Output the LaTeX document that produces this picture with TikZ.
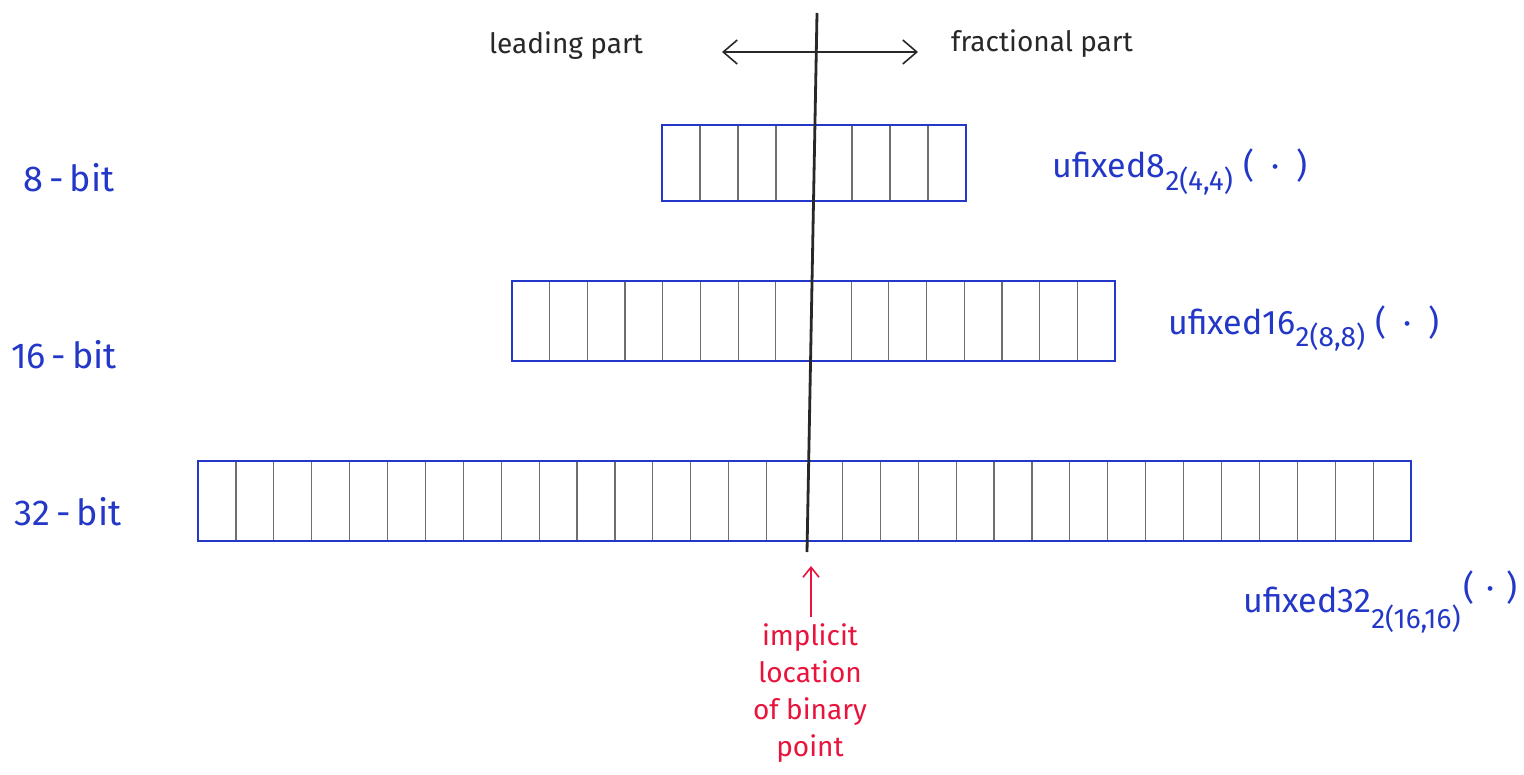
\documentclass[tikz,border=0pt]{standalone}
\usepackage{fontspec}
\setmainfont{Fira Sans}
\usetikzlibrary{arrows.meta,calc}
\definecolor{penblue}{RGB}{35,55,200}
\definecolor{penred}{RGB}{232,20,60}
\definecolor{pencil}{RGB}{110,110,110}
\definecolor{ink}{RGB}{40,40,40}
\newcommand{\lowsub}[1]{\raisebox{-0.7ex}{\fontsize{14}{14}\selectfont #1}}
\newcommand{\argdot}{(\hspace{0.5em}·\hspace{0.5em})}
\tikzset{
  bitbox/.style={draw=penblue, line width=1.3pt},
  divider/.style={draw=pencil, line width=0.6pt},
  axisline/.style={draw=ink, line width=1.4pt},
  dirarrow/.style={draw=ink, line width=0.8pt, {Straight Barb[length=7pt,width=12pt]}-{Straight Barb[length=7pt,width=12pt]}},
  blabel/.style={text=penblue, font=\fontsize{18}{20}\selectfont, inner sep=0pt},
  tlabel/.style={text=penblue, font=\fontsize{17}{20}\selectfont, inner sep=0pt, anchor=base west},
  hlabel/.style={text=ink, font=\fontsize{14}{16}\selectfont, inner sep=0pt},
  redtext/.style={text=penred, font=\fontsize{14}{18.5}\selectfont, align=center, inner sep=0pt},
}
\begin{document}
\begin{tikzpicture}[x=0.5pt,y=-0.5pt]
\useasboundingbox (0,0) rectangle (1524,775);
\fill[white] (0,0) rectangle (1524,775);

% boxes
\coordinate (b8nw) at (662,125); \coordinate (b8se) at (966,201);
\coordinate (b16nw) at (512,281); \coordinate (b16se) at (1115,361);
\coordinate (b32nw) at (198,461); \coordinate (b32se) at (1411,541);

\foreach \b/\n in {b8/8, b16/16, b32/32}{
  \pgfmathtruncatemacro{\half}{\n/2}
  \pgfmathtruncatemacro{\last}{\n-1}
  \foreach \i in {1,...,\last}{
    \ifnum\i=\half\relax\else
      \draw[divider] ($(\b nw)!\i/\n!(\b se |- \b nw)$) -- ($(\b nw |- \b se)!\i/\n!(\b se)$);
    \fi
  }
  \draw[bitbox] (\b nw) rectangle (\b se);
}

% axis
\coordinate (axtop) at (817,13);
\coordinate (axbot) at (807,552);
\draw[axisline] (axtop) -- (axbot);

% direction arrow
\coordinate (arl) at (722,52);
\coordinate (arr) at (918,52);
\draw[dirarrow] (arl) -- (arr);
\node[hlabel] (lead) at (566,46) {leading part};
\node[hlabel] (frac) at (1042,44) {fractional part};

% left labels
\node[blabel] (l8) at (69,178) {8\,-\,bit};
\node[blabel] (l16) at (64,355) {16\,-\,bit};
\node[blabel] (l32) at (68,512) {32\,-\,bit};

% type labels
\node[tlabel] (t8) at (1052,178) {ufixed8\lowsub{2(4,4)}\hspace{0.3em}\argdot};
\node[tlabel] (t16) at (1168,334) {ufixed16\lowsub{2(8,8)}\hspace{0.3em}\argdot};
\node[tlabel] (t32) at (1243,612) {ufixed32\raisebox{-0.9ex}{\fontsize{14}{14}\selectfont 2(16,16)}\hspace{0.1em}\raisebox{0.7ex}{(\hspace{0.35em}·\hspace{0.35em})}};

% binary point annotation
\coordinate (rtip) at (811,566);
\node[redtext] (bp) at (810,693) {implicit\\location\\of binary\\point};
\draw[draw=penred, line width=0.8pt, -{Straight Barb[length=5pt,width=8pt]}] (bp.north) ++(1,-6) -- (rtip);
\end{tikzpicture}
\end{document}
